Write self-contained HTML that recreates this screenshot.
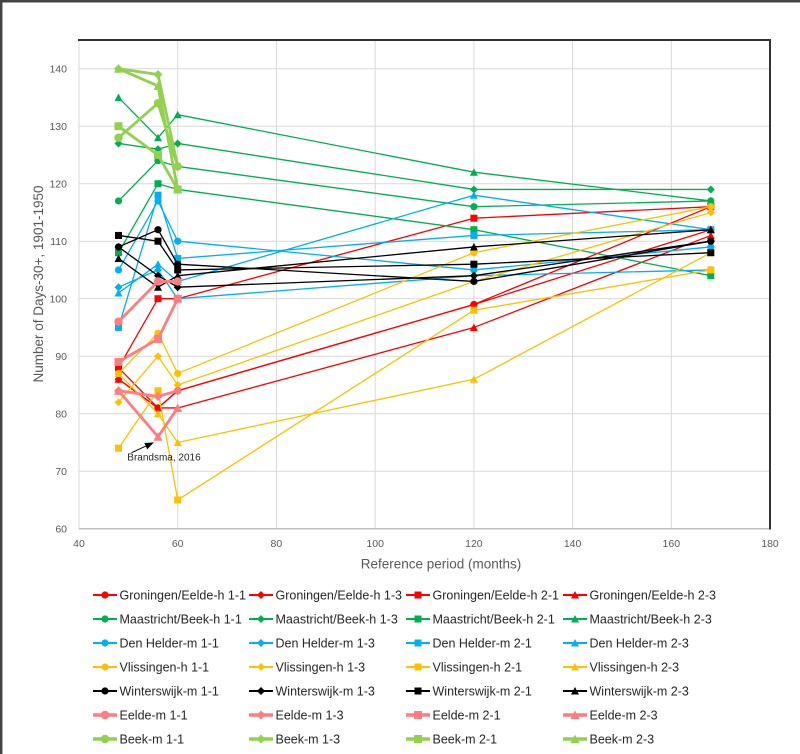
<!DOCTYPE html>
<html><head><meta charset="utf-8"><style>
html,body{margin:0;padding:0;background:#fff;}
svg{display:block;}
text{font-family:"Liberation Sans",Arial,sans-serif;}
</style></head><body>
<svg width="800" height="754" viewBox="0 0 800 754" xmlns="http://www.w3.org/2000/svg">
<defs>
<!-- normal markers -->
<marker id="rC" markerWidth="12" markerHeight="12" refX="6" refY="6" markerUnits="userSpaceOnUse"><circle cx="6" cy="6" r="3.6" fill="#FF0000"/></marker>
<marker id="rD" markerWidth="12" markerHeight="12" refX="6" refY="6" markerUnits="userSpaceOnUse"><path d="M6 2L10 6L6 10L2 6Z" fill="#FF0000"/></marker>
<marker id="rS" markerWidth="12" markerHeight="12" refX="6" refY="6" markerUnits="userSpaceOnUse"><rect x="2.5" y="2.5" width="7" height="7" fill="#FF0000"/></marker>
<marker id="rT" markerWidth="12" markerHeight="12" refX="6" refY="6" markerUnits="userSpaceOnUse"><path d="M6 2L10 9.5L2 9.5Z" fill="#FF0000"/></marker>
<marker id="gC" markerWidth="12" markerHeight="12" refX="6" refY="6" markerUnits="userSpaceOnUse"><circle cx="6" cy="6" r="3.6" fill="#00B050"/></marker>
<marker id="gD" markerWidth="12" markerHeight="12" refX="6" refY="6" markerUnits="userSpaceOnUse"><path d="M6 2L10 6L6 10L2 6Z" fill="#00B050"/></marker>
<marker id="gS" markerWidth="12" markerHeight="12" refX="6" refY="6" markerUnits="userSpaceOnUse"><rect x="2.5" y="2.5" width="7" height="7" fill="#00B050"/></marker>
<marker id="gT" markerWidth="12" markerHeight="12" refX="6" refY="6" markerUnits="userSpaceOnUse"><path d="M6 2L10 9.5L2 9.5Z" fill="#00B050"/></marker>
<marker id="bC" markerWidth="12" markerHeight="12" refX="6" refY="6" markerUnits="userSpaceOnUse"><circle cx="6" cy="6" r="3.6" fill="#00B0F0"/></marker>
<marker id="bD" markerWidth="12" markerHeight="12" refX="6" refY="6" markerUnits="userSpaceOnUse"><path d="M6 2L10 6L6 10L2 6Z" fill="#00B0F0"/></marker>
<marker id="bS" markerWidth="12" markerHeight="12" refX="6" refY="6" markerUnits="userSpaceOnUse"><rect x="2.5" y="2.5" width="7" height="7" fill="#00B0F0"/></marker>
<marker id="bT" markerWidth="12" markerHeight="12" refX="6" refY="6" markerUnits="userSpaceOnUse"><path d="M6 2L10 9.5L2 9.5Z" fill="#00B0F0"/></marker>
<marker id="yC" markerWidth="12" markerHeight="12" refX="6" refY="6" markerUnits="userSpaceOnUse"><circle cx="6" cy="6" r="3.6" fill="#FFC000"/></marker>
<marker id="yD" markerWidth="12" markerHeight="12" refX="6" refY="6" markerUnits="userSpaceOnUse"><path d="M6 2L10 6L6 10L2 6Z" fill="#FFC000"/></marker>
<marker id="yS" markerWidth="12" markerHeight="12" refX="6" refY="6" markerUnits="userSpaceOnUse"><rect x="2.5" y="2.5" width="7" height="7" fill="#FFC000"/></marker>
<marker id="yT" markerWidth="12" markerHeight="12" refX="6" refY="6" markerUnits="userSpaceOnUse"><path d="M6 2L10 9.5L2 9.5Z" fill="#FFC000"/></marker>
<marker id="kC" markerWidth="12" markerHeight="12" refX="6" refY="6" markerUnits="userSpaceOnUse"><circle cx="6" cy="6" r="3.6" fill="#000"/></marker>
<marker id="kD" markerWidth="12" markerHeight="12" refX="6" refY="6" markerUnits="userSpaceOnUse"><path d="M6 2L10 6L6 10L2 6Z" fill="#000"/></marker>
<marker id="kS" markerWidth="12" markerHeight="12" refX="6" refY="6" markerUnits="userSpaceOnUse"><rect x="2.5" y="2.5" width="7" height="7" fill="#000"/></marker>
<marker id="kT" markerWidth="12" markerHeight="12" refX="6" refY="6" markerUnits="userSpaceOnUse"><path d="M6 2L10 9.5L2 9.5Z" fill="#000"/></marker>
<!-- thick series markers -->
<marker id="sC" markerWidth="12" markerHeight="12" refX="6" refY="6" markerUnits="userSpaceOnUse"><circle cx="6" cy="6" r="4.2" fill="#FF7C80"/></marker>
<marker id="sD" markerWidth="12" markerHeight="12" refX="6" refY="6" markerUnits="userSpaceOnUse"><path d="M6 1.5L10.5 6L6 10.5L1.5 6Z" fill="#FF7C80"/></marker>
<marker id="sS" markerWidth="12" markerHeight="12" refX="6" refY="6" markerUnits="userSpaceOnUse"><rect x="2" y="2" width="8" height="8" fill="#FF7C80"/></marker>
<marker id="sT" markerWidth="12" markerHeight="12" refX="6" refY="6" markerUnits="userSpaceOnUse"><path d="M6 1.5L10.5 10L1.5 10Z" fill="#FF7C80"/></marker>
<marker id="lC" markerWidth="12" markerHeight="12" refX="6" refY="6" markerUnits="userSpaceOnUse"><circle cx="6" cy="6" r="4.2" fill="#92D050"/></marker>
<marker id="lD" markerWidth="12" markerHeight="12" refX="6" refY="6" markerUnits="userSpaceOnUse"><path d="M6 1.5L10.5 6L6 10.5L1.5 6Z" fill="#92D050"/></marker>
<marker id="lS" markerWidth="12" markerHeight="12" refX="6" refY="6" markerUnits="userSpaceOnUse"><rect x="2" y="2" width="8" height="8" fill="#92D050"/></marker>
<marker id="lT" markerWidth="12" markerHeight="12" refX="6" refY="6" markerUnits="userSpaceOnUse"><path d="M6 1.5L10.5 10L1.5 10Z" fill="#92D050"/></marker>
<marker id="arr" markerWidth="10" markerHeight="10" refX="8" refY="5" orient="auto" markerUnits="userSpaceOnUse"><path d="M0 1.5L9 5L0 8.5Z" fill="#000"/></marker>
</defs>

<rect x="0" y="0" width="800" height="754" fill="#fff"/>
<!-- outer frame -->
<line x0="0" x1="800" y1="1.2" y2="1.2" stroke="#444" stroke-width="2.5"/>
<line x1="1.2" x2="1.2" y1="0" y2="754" stroke="#444" stroke-width="2.5"/>

<!-- gridlines -->
<g stroke="#D9D9D9" stroke-width="1">
<line x1="79" x2="770" y1="471.2" y2="471.2"/>
<line x1="79" x2="770" y1="413.7" y2="413.7"/>
<line x1="79" x2="770" y1="356.2" y2="356.2"/>
<line x1="79" x2="770" y1="298.7" y2="298.7"/>
<line x1="79" x2="770" y1="241.2" y2="241.2"/>
<line x1="79" x2="770" y1="183.7" y2="183.7"/>
<line x1="79" x2="770" y1="126.2" y2="126.2"/>
<line x1="79" x2="770" y1="68.7" y2="68.7"/>
<line x1="177.7" x2="177.7" y1="40" y2="528.7"/>
<line x1="276.4" x2="276.4" y1="40" y2="528.7"/>
<line x1="375.2" x2="375.2" y1="40" y2="528.7"/>
<line x1="473.9" x2="473.9" y1="40" y2="528.7"/>
<line x1="572.6" x2="572.6" y1="40" y2="528.7"/>
<line x1="671.3" x2="671.3" y1="40" y2="528.7"/>
<line x1="79" x2="79" y1="40" y2="528.7"/>
</g>
<line x1="79" x2="770" y1="528.7" y2="528.7" stroke="#BFBFBF" stroke-width="1.5"/>
<line x1="78" x2="771" y1="40" y2="40" stroke="#333" stroke-width="2"/>
<line x1="770" x2="770" y1="39" y2="529.5" stroke="#333" stroke-width="2"/>

<!-- tick labels -->
<g font-size="10.5" fill="#595959" text-anchor="end">
<text x="67" y="532.5">60</text>
<text x="67" y="475">70</text>
<text x="67" y="417.5">80</text>
<text x="67" y="360">90</text>
<text x="67" y="302.5">100</text>
<text x="67" y="245">110</text>
<text x="67" y="187.5">120</text>
<text x="67" y="130">130</text>
<text x="67" y="72.5">140</text>
</g>
<g font-size="10.5" fill="#595959" text-anchor="middle">
<text x="79" y="547">40</text>
<text x="177.7" y="547">60</text>
<text x="276.4" y="547">80</text>
<text x="375.2" y="547">100</text>
<text x="473.9" y="547">120</text>
<text x="572.6" y="547">140</text>
<text x="671.3" y="547">160</text>
<text x="770" y="547">180</text>
</g>
<text x="441" y="568.5" font-size="13.5" fill="#595959" text-anchor="middle">Reference period (months)</text>
<text transform="translate(43,284) rotate(-90)" font-size="13.5" fill="#595959" text-anchor="middle">Number of Days-30+, 1901-1950</text>

<!-- series -->
<g fill="none" stroke-width="1.3" stroke-linejoin="round">
<polyline stroke="#FF0000" marker-start="url(#rC)" marker-mid="url(#rC)" marker-end="url(#rC)" points="118.5,367.7 158,407.95 177.7,390.7 473.9,304.45 710.8,229.7"/>
<polyline stroke="#FF0000" marker-start="url(#rD)" marker-mid="url(#rD)" marker-end="url(#rD)" points="118.5,379.2 158,407.95 177.7,390.7 473.9,304.45 710.8,206.7"/>
<polyline stroke="#FF0000" marker-start="url(#rS)" marker-mid="url(#rS)" marker-end="url(#rS)" points="118.5,367.7 158,298.7 177.7,298.7 473.9,218.2 710.8,206.7"/>
<polyline stroke="#FF0000" marker-start="url(#rT)" marker-mid="url(#rT)" marker-end="url(#rT)" points="118.5,379.2 158,407.95 177.7,407.95 473.9,327.45 710.8,235.45"/>

<polyline stroke="#00B050" marker-start="url(#gC)" marker-mid="url(#gC)" marker-end="url(#gC)" points="118.5,200.95 158,160.7 177.7,166.45 473.9,206.7 710.8,200.95"/>
<polyline stroke="#00B050" marker-start="url(#gD)" marker-mid="url(#gD)" marker-end="url(#gD)" points="118.5,143.45 158,149.2 177.7,143.45 473.9,189.45 710.8,189.45"/>
<polyline stroke="#00B050" marker-start="url(#gS)" marker-mid="url(#gS)" marker-end="url(#gS)" points="118.5,252.7 158,183.7 177.7,189.45 473.9,229.7 710.8,275.7"/>
<polyline stroke="#00B050" marker-start="url(#gT)" marker-mid="url(#gT)" marker-end="url(#gT)" points="118.5,97.45 158,137.7 177.7,114.7 473.9,172.2 710.8,200.95"/>

<polyline stroke="#00B0F0" marker-start="url(#bC)" marker-mid="url(#bC)" marker-end="url(#bC)" points="118.5,269.95 158,200.95 177.7,241.2 473.9,269.95 710.8,246.95"/>
<polyline stroke="#00B0F0" marker-start="url(#bD)" marker-mid="url(#bD)" marker-end="url(#bD)" points="118.5,287.2 158,269.95 177.7,298.7 473.9,275.7 710.8,269.95"/>
<polyline stroke="#00B0F0" marker-start="url(#bS)" marker-mid="url(#bS)" marker-end="url(#bS)" points="118.5,327.45 158,195.2 177.7,258.45 473.9,235.45 710.8,229.7"/>
<polyline stroke="#00B0F0" marker-start="url(#bT)" marker-mid="url(#bT)" marker-end="url(#bT)" points="118.5,292.95 158,264.2 177.7,281.45 473.9,195.2 710.8,229.7"/>

<polyline stroke="#FFC000" marker-start="url(#yC)" marker-mid="url(#yC)" marker-end="url(#yC)" points="118.5,373.45 158,333.2 177.7,373.45 473.9,252.7 710.8,206.7"/>
<polyline stroke="#FFC000" marker-start="url(#yD)" marker-mid="url(#yD)" marker-end="url(#yD)" points="118.5,402.2 158,356.2 177.7,384.95 473.9,281.45 710.8,212.45"/>
<polyline stroke="#FFC000" marker-start="url(#yS)" marker-mid="url(#yS)" marker-end="url(#yS)" points="118.5,448.2 158,390.7 177.7,499.95 473.9,310.2 710.8,269.95"/>
<polyline stroke="#FFC000" marker-start="url(#yT)" marker-mid="url(#yT)" marker-end="url(#yT)" points="118.5,373.45 158,413.7 177.7,442.45 473.9,379.2 710.8,252.7"/>

<polyline stroke="#000" marker-start="url(#kC)" marker-mid="url(#kC)" marker-end="url(#kC)" points="118.5,246.95 158,229.7 177.7,264.2 473.9,281.45 710.8,241.2"/>
<polyline stroke="#000" marker-start="url(#kD)" marker-mid="url(#kD)" marker-end="url(#kD)" points="118.5,246.95 158,275.7 177.7,287.2 473.9,275.7 710.8,241.2"/>
<polyline stroke="#000" marker-start="url(#kS)" marker-mid="url(#kS)" marker-end="url(#kS)" points="118.5,235.45 158,241.2 177.7,269.95 473.9,264.2 710.8,252.7"/>
<polyline stroke="#000" marker-start="url(#kT)" marker-mid="url(#kT)" marker-end="url(#kT)" points="118.5,258.45 158,287.2 177.7,275.7 473.9,246.95 710.8,229.7"/>
</g>
<g fill="none" stroke-width="2.8" stroke-linejoin="round">
<polyline stroke="#FF7C80" marker-start="url(#sC)" marker-mid="url(#sC)" marker-end="url(#sC)" points="118.5,321.7 158,281.45 177.7,281.45"/>
<polyline stroke="#FF7C80" marker-start="url(#sD)" marker-mid="url(#sD)" marker-end="url(#sD)" points="118.5,390.7 158,396.45 177.7,390.7"/>
<polyline stroke="#FF7C80" marker-start="url(#sS)" marker-mid="url(#sS)" marker-end="url(#sS)" points="118.5,361.95 158,338.95 177.7,298.7"/>
<polyline stroke="#FF7C80" marker-start="url(#sT)" marker-mid="url(#sT)" marker-end="url(#sT)" points="118.5,390.7 158,436.7 177.7,407.95"/>

<polyline stroke="#92D050" marker-start="url(#lC)" marker-mid="url(#lC)" marker-end="url(#lC)" points="118.5,137.7 158,103.2 177.7,166.45"/>
<polyline stroke="#92D050" marker-start="url(#lD)" marker-mid="url(#lD)" marker-end="url(#lD)" points="118.5,68.7 158,74.45 177.7,166.45"/>
<polyline stroke="#92D050" marker-start="url(#lS)" marker-mid="url(#lS)" marker-end="url(#lS)" points="118.5,126.2 158,154.95 177.7,189.45"/>
<polyline stroke="#92D050" marker-start="url(#lT)" marker-mid="url(#lT)" marker-end="url(#lT)" points="118.5,68.7 158,85.95 177.7,189.45"/>
</g>

<!-- annotation -->
<line x1="131.5" y1="452.7" x2="153" y2="442.8" stroke="#000" stroke-width="1" marker-end="url(#arr)"/>
<text x="127.3" y="460.5" font-size="10" fill="#262626">Brandsma, 2016</text>

<!-- legend -->
<g fill="none" stroke-width="2">
<polyline stroke="#FF0000" marker-mid="url(#rC)" points="93,595 105,595 117,595"/>
<polyline stroke="#FF0000" marker-mid="url(#rD)" points="249,595 261,595 273,595"/>
<polyline stroke="#FF0000" marker-mid="url(#rS)" points="406,595 418,595 430,595"/>
<polyline stroke="#FF0000" marker-mid="url(#rT)" points="563,595 575,595 587,595"/>
<polyline stroke="#00B050" marker-mid="url(#gC)" points="93,619 105,619 117,619"/>
<polyline stroke="#00B050" marker-mid="url(#gD)" points="249,619 261,619 273,619"/>
<polyline stroke="#00B050" marker-mid="url(#gS)" points="406,619 418,619 430,619"/>
<polyline stroke="#00B050" marker-mid="url(#gT)" points="563,619 575,619 587,619"/>
<polyline stroke="#00B0F0" marker-mid="url(#bC)" points="93,643 105,643 117,643"/>
<polyline stroke="#00B0F0" marker-mid="url(#bD)" points="249,643 261,643 273,643"/>
<polyline stroke="#00B0F0" marker-mid="url(#bS)" points="406,643 418,643 430,643"/>
<polyline stroke="#00B0F0" marker-mid="url(#bT)" points="563,643 575,643 587,643"/>
<polyline stroke="#FFC000" marker-mid="url(#yC)" points="93,667 105,667 117,667"/>
<polyline stroke="#FFC000" marker-mid="url(#yD)" points="249,667 261,667 273,667"/>
<polyline stroke="#FFC000" marker-mid="url(#yS)" points="406,667 418,667 430,667"/>
<polyline stroke="#FFC000" marker-mid="url(#yT)" points="563,667 575,667 587,667"/>
<polyline stroke="#000" marker-mid="url(#kC)" points="93,691 105,691 117,691"/>
<polyline stroke="#000" marker-mid="url(#kD)" points="249,691 261,691 273,691"/>
<polyline stroke="#000" marker-mid="url(#kS)" points="406,691 418,691 430,691"/>
<polyline stroke="#000" marker-mid="url(#kT)" points="563,691 575,691 587,691"/>
</g>
<g fill="none" stroke-width="3.5">
<polyline stroke="#FF7C80" marker-mid="url(#sC)" points="93,715 105,715 117,715"/>
<polyline stroke="#FF7C80" marker-mid="url(#sD)" points="249,715 261,715 273,715"/>
<polyline stroke="#FF7C80" marker-mid="url(#sS)" points="406,715 418,715 430,715"/>
<polyline stroke="#FF7C80" marker-mid="url(#sT)" points="563,715 575,715 587,715"/>
<polyline stroke="#92D050" marker-mid="url(#lC)" points="93,739 105,739 117,739"/>
<polyline stroke="#92D050" marker-mid="url(#lD)" points="249,739 261,739 273,739"/>
<polyline stroke="#92D050" marker-mid="url(#lS)" points="406,739 418,739 430,739"/>
<polyline stroke="#92D050" marker-mid="url(#lT)" points="563,739 575,739 587,739"/>
</g>
<g font-size="12.5" fill="#262626">
<text x="119.5" y="599.5">Groningen/Eelde-h 1-1</text>
<text x="275.5" y="599.5">Groningen/Eelde-h 1-3</text>
<text x="432.5" y="599.5">Groningen/Eelde-h 2-1</text>
<text x="589.5" y="599.5">Groningen/Eelde-h 2-3</text>
<text x="119.5" y="623.5">Maastricht/Beek-h 1-1</text>
<text x="275.5" y="623.5">Maastricht/Beek-h 1-3</text>
<text x="432.5" y="623.5">Maastricht/Beek-h 2-1</text>
<text x="589.5" y="623.5">Maastricht/Beek-h 2-3</text>
<text x="119.5" y="647.5">Den Helder-m 1-1</text>
<text x="275.5" y="647.5">Den Helder-m 1-3</text>
<text x="432.5" y="647.5">Den Helder-m 2-1</text>
<text x="589.5" y="647.5">Den Helder-m 2-3</text>
<text x="119.5" y="671.5">Vlissingen-h 1-1</text>
<text x="275.5" y="671.5">Vlissingen-h 1-3</text>
<text x="432.5" y="671.5">Vlissingen-h 2-1</text>
<text x="589.5" y="671.5">Vlissingen-h 2-3</text>
<text x="119.5" y="695.5">Winterswijk-m 1-1</text>
<text x="275.5" y="695.5">Winterswijk-m 1-3</text>
<text x="432.5" y="695.5">Winterswijk-m 2-1</text>
<text x="589.5" y="695.5">Winterswijk-m 2-3</text>
<text x="119.5" y="719.5">Eelde-m 1-1</text>
<text x="275.5" y="719.5">Eelde-m 1-3</text>
<text x="432.5" y="719.5">Eelde-m 2-1</text>
<text x="589.5" y="719.5">Eelde-m 2-3</text>
<text x="119.5" y="743.5">Beek-m 1-1</text>
<text x="275.5" y="743.5">Beek-m 1-3</text>
<text x="432.5" y="743.5">Beek-m 2-1</text>
<text x="589.5" y="743.5">Beek-m 2-3</text>
</g>
</svg>
</body></html>
